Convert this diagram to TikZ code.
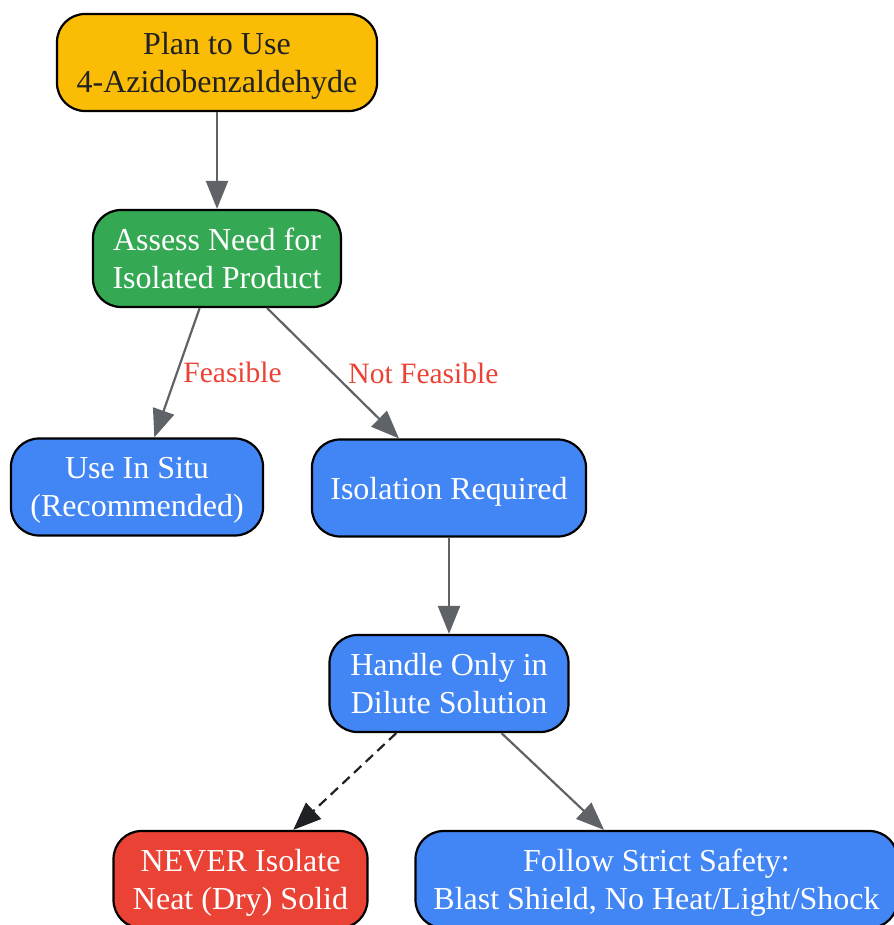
\documentclass[tikz,border=0pt]{standalone}
\usepackage{fontspec}
\setmainfont{Liberation Serif}
\usepackage{tikz}
\usetikzlibrary{arrows.meta,positioning}
\definecolor{gyellow}{HTML}{FBBC05}
\definecolor{ggreen}{HTML}{34A853}
\definecolor{gblue}{HTML}{4285F4}
\definecolor{gred}{HTML}{EA4335}
\definecolor{edgegray}{HTML}{5F6368}
\definecolor{darktext}{HTML}{202124}

\begin{document}
\begin{tikzpicture}[
    x=1pt, y=1pt,
    node distance=196pt,
    >={Triangle[length=28pt,width=22pt]},
    box/.style={
		rectangle,
		rounded corners=28pt,
		draw=black,
		line width=2.2pt,
		text centered,
		align=center,
		minimum height=97pt,
		inner xsep=10pt,
		text depth=-2pt,
		font=\fontsize{32}{38}\selectfont,
		text=white
	},
	flow/.style={
		draw=edgegray,
		line width=2.2pt,
		->
	},
	cond/.style={
		font=\fontsize{29.5}{32}\selectfont,
		text=gred,
		anchor=west
	}
  ]
    % page frame
  \useasboundingbox (0,0) rectangle (893,-925);

    % the blocks
  \node [box, fill=gyellow, text=darktext, minimum width=320pt] (plan) at (217,-62.5)
  {Plan to Use\\4-Azidobenzaldehyde};

  \node [box, fill=ggreen, minimum width=248pt, below of=plan] (assess)
  {Assess Need for\\Isolated Product};

  \node [box, fill=gblue, minimum width=252pt, below of=assess, xshift=-80pt, yshift=-32.5pt] (insitu)
  {Use In Situ\\(Recommended)};

  \node [box, fill=gblue, minimum width=274pt, below of=assess, xshift=232pt, yshift=-33.5pt] (isolation)
  {Isolation Required};

  \node [box, fill=gblue, minimum width=239pt, below of=isolation, yshift=0.5pt] (dilute)
  {Handle Only in\\Dilute Solution};

  \node [box, fill=gred, minimum width=254pt, below of=dilute, xshift=-208.5pt] (never)
  {NEVER Isolate\\Neat (Dry) Solid};

  \node [box, fill=gblue, minimum width=482pt, below of=dilute, xshift=207.5pt] (safety)
  {Follow Strict Safety:\\Blast Shield, No Heat/Light/Shock};

    % the connectors
  \draw [flow] (plan) -- (assess);
  \draw [flow] (assess) -- node [cond, xshift=2pt] {Feasible} (insitu);
  \draw [flow] (assess) -- node [cond, xshift=11pt] {Not Feasible} (isolation);
  \draw [flow] (isolation) -- (dilute);
  \draw [flow, draw=darktext, dash pattern=on 10pt off 6pt] (dilute) -- (never);
  \draw [flow] (dilute) -- (safety);

\end{tikzpicture}
\end{document}
